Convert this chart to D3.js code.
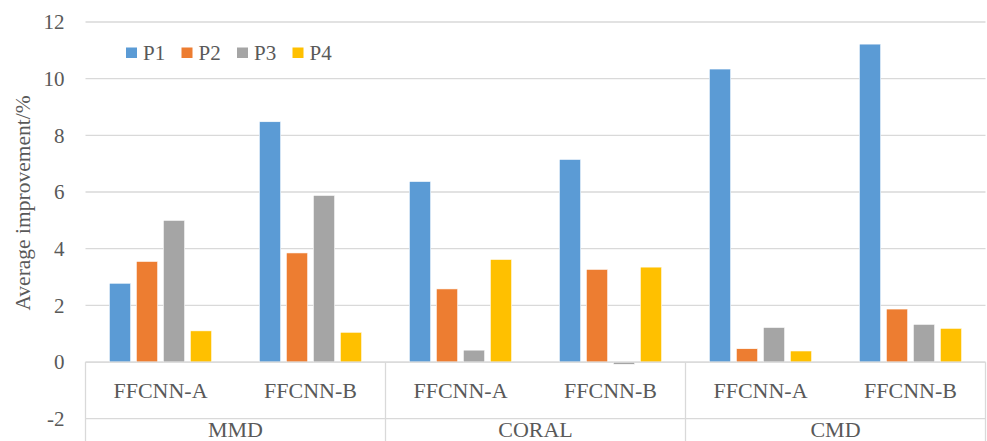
<!DOCTYPE html>
<html>
<head>
<meta charset="utf-8">
<script src="https://cdn.jsdelivr.net/npm/d3@7"></script>
<style>
  html, body { margin: 0; padding: 0; background: #fff; }
  svg { display: block; }
  text { font-family: "Liberation Serif", "Times New Roman", serif; fill: #595959; }
</style>
</head>
<body>
<svg id="chart" width="987" height="441"></svg>
<script>
const categories = ["MMD", "CORAL", "CMD"];
const subcategories = ["FFCNN-A", "FFCNN-B"];
const seriesNames = ["P1", "P2", "P3", "P4"];
const seriesColors = ["#5B9BD5", "#ED7D31", "#A5A5A5", "#FFC000"];
const P1 = [2.78, 8.48, 6.37, 7.15, 10.34, 11.22];
const P2 = [3.55, 3.85, 2.58, 3.27, 0.47, 1.87];
const P3 = [5.00, 5.88, 0.42, -0.08, 1.22, 1.33];
const P4 = [1.10, 1.05, 3.62, 3.35, 0.39, 1.19];
const yTicks = [-2, 0, 2, 4, 6, 8, 10, 12];

const seriesValues = [P1, P2, P3, P4];
const svg = d3.select("#chart");
const mLeft = 85.5, mRight = 985.5, mTop = 22, mBottom = 418.7;

const leaves = [];
categories.forEach(c => subcategories.forEach(s => leaves.push(c + "|" + s)));

const x0 = d3.scaleBand().domain(leaves).range([mLeft, mRight]).padding(0);
const x1 = d3.scaleBand().domain(seriesNames).range([0, x0.bandwidth()])
  .paddingInner(0.21).paddingOuter(0.883);
const xc = d3.scaleBand().domain(categories).range([mLeft, mRight]).padding(0);
const y = d3.scaleLinear().domain([-2, 12]).range([mBottom, mTop]);

const grid = "#D9D9D9";
// gridlines
svg.append("g").selectAll("line").data(yTicks).join("line")
  .attr("x1", mLeft).attr("x2", mRight)
  .attr("y1", d => y(d)).attr("y2", d => y(d))
  .attr("stroke", grid).attr("stroke-width", 1.3);

// y axis labels
const yAxis = d3.axisLeft(y).tickValues(yTicks).tickSize(0).tickPadding(21)
  .tickFormat(d => String(d));
const gy = svg.append("g").attr("transform", `translate(${mLeft},0)`).call(yAxis);
gy.select(".domain").remove();
gy.selectAll("text").style("font-size", "21px").attr("fill", "#595959")
  .style("font-family", "'Liberation Serif', serif");

// bars
const data = [];
leaves.forEach((leaf, i) => seriesNames.forEach((s, j) => {
  data.push({ leaf, s, v: seriesValues[j][i], color: seriesColors[j] });
}));
svg.append("g").selectAll("rect").data(data).join("rect")
  .attr("x", d => x0(d.leaf) + x1(d.s))
  .attr("width", x1.bandwidth())
  .attr("y", d => y(Math.max(0, d.v)))
  .attr("height", d => Math.abs(y(d.v) - y(0)))
  .attr("fill", d => d.color)
  .attr("stroke", "#fff").attr("stroke-width", 0.6);

// category axis lines
const y0 = y(0);
svg.append("line").attr("x1", mLeft).attr("x2", mRight).attr("y1", y0).attr("y2", y0)
  .attr("stroke", grid).attr("stroke-width", 1.3);
const seps = categories.map(c => xc(c)).concat([mRight]);
svg.append("g").selectAll("line").data(seps).join("line")
  .attr("x1", d => d).attr("x2", d => d)
  .attr("y1", y0).attr("y2", 441)
  .attr("stroke", grid).attr("stroke-width", 1.3);

// sub labels
svg.append("g").selectAll("text").data(leaves).join("text")
  .attr("x", d => x0(d) + x0.bandwidth() / 2)
  .attr("y", 397.5)
  .attr("text-anchor", "middle")
  .style("font-size", "22px")
  .text(d => d.split("|")[1]);

// category labels
svg.append("g").selectAll("text").data(categories).join("text")
  .attr("x", d => xc(d) + xc.bandwidth() / 2)
  .attr("y", 437)
  .attr("text-anchor", "middle")
  .style("font-size", "22px")
  .text(d => d);

// y title
svg.append("text")
  .attr("transform", "translate(30,203) rotate(-90)")
  .attr("text-anchor", "middle")
  .style("font-size", "21.5px")
  .text("Average improvement/%");

// legend
const lg = svg.append("g").selectAll("g").data(seriesNames).join("g")
  .attr("transform", (d, i) => `translate(${126 + i * 55.5},0)`);
lg.append("rect").attr("x", 0).attr("y", 47.5).attr("width", 11).attr("height", 10.5)
  .attr("fill", (d, i) => seriesColors[i]);
lg.append("text").attr("x", 17).attr("y", 59.5).style("font-size", "21px").text(d => d);
</script>
</body>
</html>
